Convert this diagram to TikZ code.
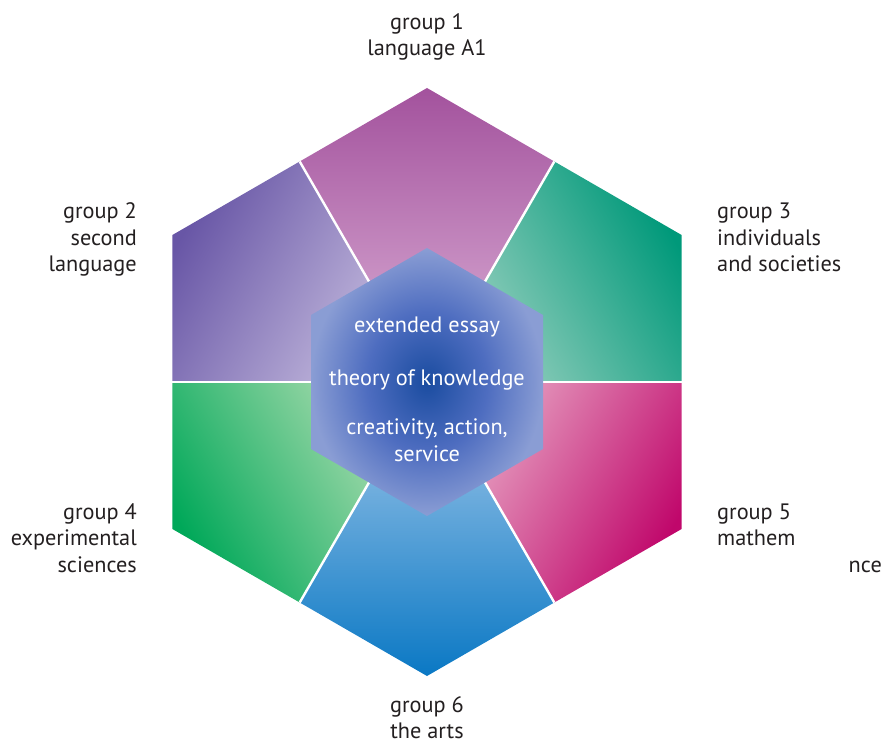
\documentclass[tikz,border=0pt]{standalone}
\usepackage{fontspec}
\setmainfont{PT Sans}
\definecolor{gOnedark}{HTML}{A3529D}\definecolor{gOnelight}{HTML}{DDB3D8}
\definecolor{gThreedark}{HTML}{00997A}\definecolor{gThreelight}{HTML}{A3D4C4}
\definecolor{gFivedark}{HTML}{C0076B}\definecolor{gFivelight}{HTML}{EBB4CC}
\definecolor{gSixdark}{HTML}{0A78C4}\definecolor{gSixlight}{HTML}{A9CCEC}
\definecolor{gFourdark}{HTML}{00A859}\definecolor{gFourlight}{HTML}{B8E0B6}
\definecolor{gTwodark}{HTML}{6856A6}\definecolor{gTwolight}{HTML}{CBC2E2}
\definecolor{hexA}{HTML}{1A4CA0}\definecolor{hexB}{HTML}{4E6DC0}\definecolor{hexC}{HTML}{8A9DD4}
\definecolor{labeltext}{HTML}{231F20}
\pgfdeclareradialshading{hexshade}{\pgfpoint{0bp}{0bp}}{color(0bp)=(hexA); color(13bp)=(hexB); color(25bp)=(hexC); color(50bp)=(hexC)}
\begin{document}
\begin{tikzpicture}[x=1pt,y=-1pt,
  lbl/.style={font=\fontsize{22.3}{26.5}\selectfont, text=labeltext, inner sep=0pt},
  ctr/.style={font=\fontsize{22.3}{26.5}\selectfont, text=white, inner sep=0pt, anchor=base},
  divider/.style={draw=white, line width=2.4pt}]
\useasboundingbox (0,0) rectangle (884,743);
\coordinate (C) at (427,382);
\coordinate (V1) at (427,88);
\coordinate (V3) at (681.6,235);
\coordinate (V5) at (681.6,529);
\coordinate (V6) at (427,676);
\coordinate (V4) at (172.4,529);
\coordinate (V2) at (172.4,235);
\coordinate (M12) at (299.7,161.5);
\coordinate (M13) at (554.3,161.5);
\coordinate (M35) at (681.6,382);
\coordinate (M56) at (554.3,602.5);
\coordinate (M46) at (299.7,602.5);
\coordinate (M24) at (172.4,382);
\coordinate (I1) at (427,248);
\coordinate (I3) at (543,315);
\coordinate (I5) at (543,449);
\coordinate (I6) at (427,516);
\coordinate (I4) at (311,449);
\coordinate (I2) at (311,315);
% kites
\shade[top color=gOnedark, bottom color=gOnelight] (V1) -- (M13) -- (C) -- (M12) -- cycle;
\shade[top color=gThreedark, bottom color=gThreelight, shading angle=-60] (V3) -- (M35) -- (C) -- (M13) -- cycle;
\shade[top color=gFivedark, bottom color=gFivelight, shading angle=-120] (V5) -- (M56) -- (C) -- (M35) -- cycle;
\shade[top color=gSixdark, bottom color=gSixlight, shading angle=180] (V6) -- (M46) -- (C) -- (M56) -- cycle;
\shade[top color=gFourdark, bottom color=gFourlight, shading angle=120] (V4) -- (M24) -- (C) -- (M46) -- cycle;
\shade[top color=gTwodark, bottom color=gTwolight, shading angle=60] (V2) -- (M12) -- (C) -- (M24) -- cycle;
% dividers
\foreach \m in {M12,M13,M35,M56,M46,M24} \draw[divider] (\m) -- (C);
% inner hexagon
\shade[shading=hexshade] (I1) -- (I3) -- (I5) -- (I6) -- (I4) -- (I2) -- cycle;
% centre texts
\node[ctr] (ee) at (427,333) {extended essay};
\node[ctr] (tok) at (427,385) {theory of knowledge};
\node[ctr] (cas1) at (427,435) {creativity, action,};
\node[ctr] (cas2) at (427,461.5) {service};
% outer labels (base = baseline of last line)
\node[lbl, anchor=base, align=center] (g1) at (427,56) {group 1\\language A1};
\node[lbl, anchor=base east, align=right] (g2) at (137,272) {group 2\\second\\language};
\node[lbl, anchor=base west, align=left] (g3) at (717,272) {group 3\\individuals\\and societies};
\node[lbl, anchor=base east, align=right] (g4) at (137,572) {group 4\\experimental\\sciences};
\node[lbl, anchor=base west, align=left] (g5) at (717,545.5) {group 5\\mathem};
\node[lbl, anchor=base east] (g5b) at (882,572) {nce};
\node[lbl, anchor=base, align=center] (g6) at (427,738.5) {group 6\\the arts};
\end{tikzpicture}
\end{document}
